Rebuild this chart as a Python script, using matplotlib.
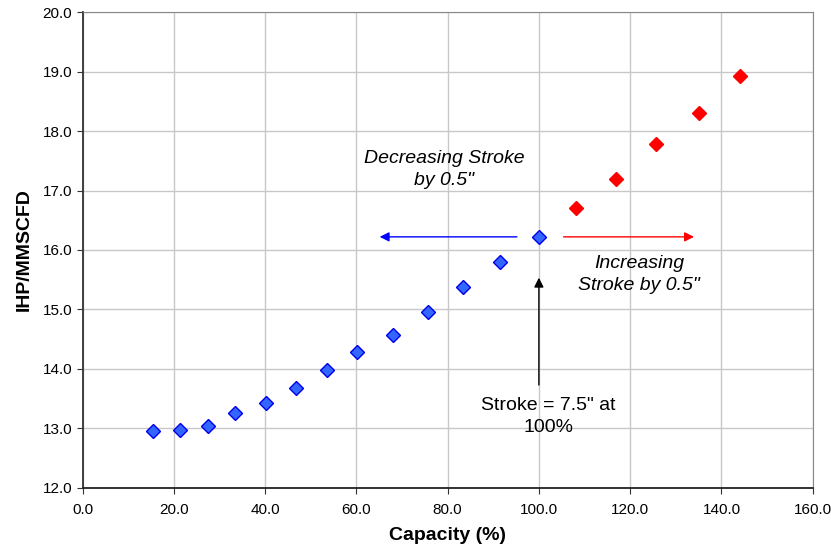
import matplotlib
matplotlib.use("Agg")
import matplotlib.pyplot as plt

plt.rcParams['font.family'] = ['Liberation Sans', 'DejaVu Sans']

# decreasing stroke points (blue), last one is the 7.5" base case
cap_blue = [15.5, 21.4, 27.4, 33.5, 40.3, 46.8, 53.5, 60.1, 68.0, 75.7, 83.3, 91.4, 100.0]
ihp_blue = [12.96, 12.97, 13.03, 13.25, 13.42, 13.68, 13.98, 14.28, 14.57, 14.95, 15.38, 15.79, 16.21]

# increasing stroke points (red)
cap_red = [108.2, 117.0, 125.6, 135.1, 144.1]
ihp_red = [16.71, 17.20, 17.79, 18.30, 18.92]

fig = plt.figure(figsize=(8.31, 5.46), dpi=100)
ax = fig.add_axes([0.0993, 0.107, 0.8787, 0.8705])

ax.plot(cap_blue, ihp_blue, linestyle='none', marker='D', markersize=7.3,
        markerfacecolor='#3366FF', markeredgecolor='#0000EE', markeredgewidth=1, zorder=3)
ax.plot(cap_red, ihp_red, linestyle='none', marker='D', markersize=7.3,
        markerfacecolor='#FF0000', markeredgecolor='#FF0000', markeredgewidth=1, zorder=3)

# arrows
ax.annotate('', xy=(64.5, 16.22), xytext=(95.8, 16.22),
            arrowprops=dict(arrowstyle='-|>', color='#0000FF', lw=1, mutation_scale=14))
ax.annotate('', xy=(134.6, 16.22), xytext=(104.8, 16.22),
            arrowprops=dict(arrowstyle='-|>', color='#FF0000', lw=1, mutation_scale=14))
ax.annotate('', xy=(100.0, 15.58), xytext=(100.0, 13.68),
            arrowprops=dict(arrowstyle='-|>', color='black', lw=1, mutation_scale=14))

ax.text(79.2, 17.35, 'Decreasing Stroke\nby 0.5"', ha='center', va='center',
        fontsize=14, style='italic', linespacing=1.4)
ax.text(121.9, 15.59, 'Increasing\nStroke by 0.5"', ha='center', va='center',
        fontsize=14, style='italic', linespacing=1.4)
ax.text(102.0, 13.20, 'Stroke = 7.5" at\n100%', ha='center', va='center',
        fontsize=14, linespacing=1.4)

ax.set_xlim(0, 160)
ax.set_ylim(12, 20)
ax.set_xticks(range(0, 161, 20))
ax.set_yticks([12 + i for i in range(9)])
ax.set_xticklabels(['%.1f' % v for v in range(0, 161, 20)])
ax.set_yticklabels(['%.1f' % (12 + i) for i in range(9)])
ax.tick_params(labelsize=11, length=4, direction='out', color='#333333')
ax.tick_params(axis='x', pad=7)
ax.grid(True, color='#C8C8C8', lw=1)
ax.set_axisbelow(True)

ax.spines['left'].set_color('#333333')
ax.spines['bottom'].set_color('#222222')
ax.spines['left'].set_linewidth(1.3)
ax.spines['bottom'].set_linewidth(1.3)
ax.spines['top'].set_color('#888888')
ax.spines['right'].set_color('#888888')

ax.set_xlabel('Capacity (%)', fontsize=14, fontweight='bold', labelpad=7)
ax.set_ylabel('IHP/MMSCFD', fontsize=14, fontweight='bold', labelpad=7)

fig.savefig('out.png', dpi=100)
